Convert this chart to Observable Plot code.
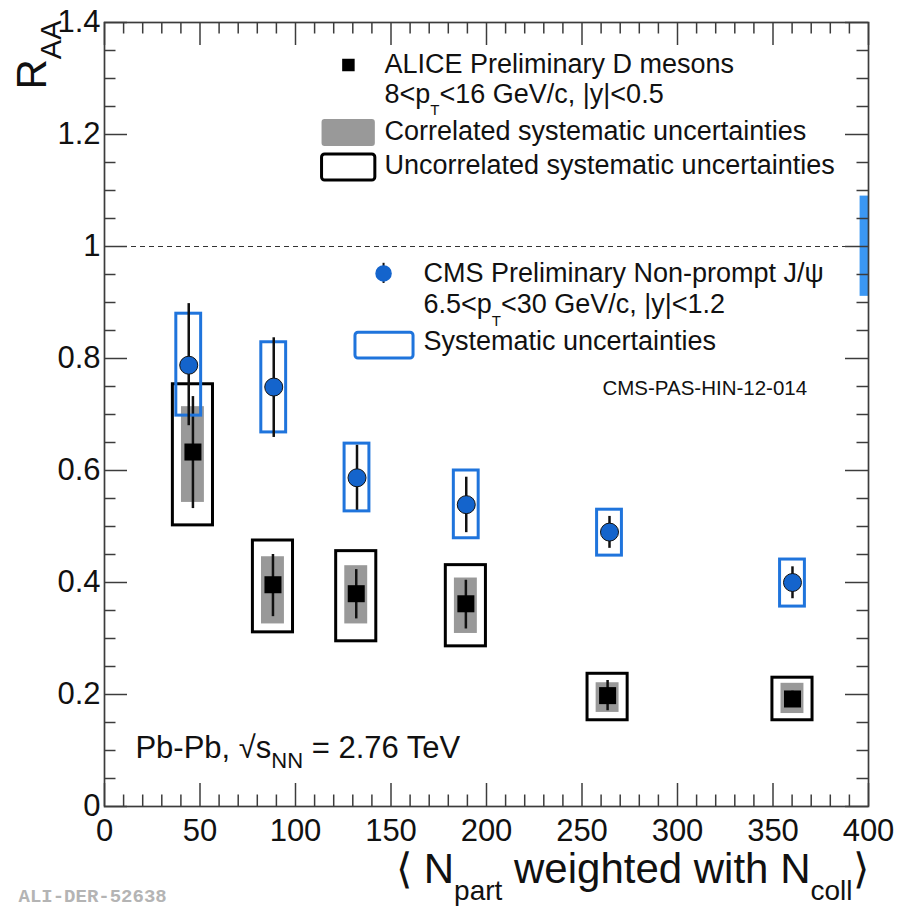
<!DOCTYPE html>
<html>
<head>
<meta charset="utf-8">
<script src="https://cdn.jsdelivr.net/npm/d3@7"></script>
<script src="https://cdn.jsdelivr.net/npm/@observablehq/plot@0.6"></script>
<style>
  html, body { margin: 0; padding: 0; background: #fff; }
  #chart svg { display: block; }
</style>
</head>
<body>
<div id="chart"></div>
<script>
// ---------------- data ----------------
// ALICE preliminary D mesons, 8<pT<16 GeV/c
const aliceNpart      = [46.3, 88.2, 131.8, 189.2, 263.4, 360.2];
const aliceRaa        = [0.633, 0.396, 0.380, 0.362, 0.198, 0.192];
const aliceStatLow    = [0.532, 0.339, 0.335, 0.317, 0.171, 0.178];
const aliceStatHigh   = [0.732, 0.450, 0.423, 0.404, 0.225, 0.206];
const aliceCorrLow    = [0.543, 0.326, 0.326, 0.309, 0.168, 0.166];
const aliceCorrHigh   = [0.714, 0.446, 0.430, 0.408, 0.221, 0.220];
const aliceUncorrLow  = [0.502, 0.311, 0.295, 0.286, 0.154, 0.154];
const aliceUncorrHigh = [0.754, 0.475, 0.456, 0.431, 0.237, 0.230];

// CMS preliminary non-prompt J/psi, 6.5<pT<30 GeV/c
const cmsNpart    = [44.1, 88.6, 132.2, 189.4, 264.4, 360.2];
const cmsRaa      = [0.788, 0.749, 0.587, 0.539, 0.490, 0.400];
const cmsStatLow  = [0.680, 0.659, 0.529, 0.489, 0.461, 0.371];
const cmsStatHigh = [0.898, 0.837, 0.645, 0.588, 0.518, 0.428];
const cmsSystLow  = [0.698, 0.668, 0.527, 0.479, 0.448, 0.357];
const cmsSystHigh = [0.880, 0.829, 0.648, 0.600, 0.530, 0.441];
const cmsGlobalSyst = [0.911, 1.090];

// axes
const xTickLabels = [0, 50, 100, 150, 200, 250, 300, 350, 400];
const yTickLabels = [0, 0.2, 0.4, 0.6, 0.8, 1, 1.2, 1.4];
const xMinorTicks = [10,20,30,40,60,70,80,90,110,120,130,140,160,170,180,190,210,220,230,240,260,270,280,290,310,320,330,340,360,370,380,390];
const yMinorTicks = [0.05,0.1,0.15,0.25,0.3,0.35,0.45,0.5,0.55,0.65,0.7,0.75,0.85,0.9,0.95,1.05,1.1,1.15,1.25,1.3,1.35];

// texts
const xTitle = "⟨ N_{part} weighted with N_{coll}⟩";
const yTitle = "R_{AA}";
const aliceLabel1 = "ALICE Preliminary D mesons";
const aliceLabel2 = "8<p_{T}<16 GeV/c, |y|<0.5";
const aliceLabel3 = "Correlated systematic uncertainties";
const aliceLabel4 = "Uncorrelated systematic uncertainties";
const cmsLabel1 = "CMS Preliminary Non-prompt J/ψ";
const cmsLabel2 = "6.5<p_{T}<30 GeV/c, |y|<1.2";
const cmsLabel3 = "Systematic uncertainties";
const cmsRef = "CMS-PAS-HIN-12-014";
const systemLabel = "Pb-Pb, √s_{NN} = 2.76 TeV";
const aliceRef = "ALI-DER-52638";

// ---------------- tables ----------------
const alice = aliceNpart.map((x, i) => ({
  x, raa: aliceRaa[i], sLo: aliceStatLow[i], sHi: aliceStatHigh[i],
  cLo: aliceCorrLow[i], cHi: aliceCorrHigh[i], uLo: aliceUncorrLow[i], uHi: aliceUncorrHigh[i]
}));
const cms = cmsNpart.map((x, i) => ({
  x, raa: cmsRaa[i], sLo: cmsStatLow[i], sHi: cmsStatHigh[i], yLo: cmsSystLow[i], yHi: cmsSystHigh[i]
}));

// ---------------- layout / style ----------------
const W = 897, H = 906;
const mL = 104, mR = 29, mT = 22, mB = 100;
const plotW = W - mL - mR, plotH = H - mT - mB;
const axisColor = "#3c3c3c";
const majorLen = 23, minorLen = 11.5;
const uncorrHalf = 10.5, corrHalf = 6, cmsBoxHalf = 6.5;
const cmsFill = "#1464cc", cmsStroke = "#1f74dc", cmsGlobalFill = "#3b97f3";
const legendFont = 27;

// subscript configuration per rich string
const richConfig = new Map([
  [xTitle, {shift: 17, size: 28}],
  [yTitle, {shift: 15, size: 29}],
  [aliceLabel2, {shift: 12.5, size: 15}],
  [cmsLabel2, {shift: 12.5, size: 15}],
  [systemLabel, {shift: 10, size: 22}]
]);

const c = v => () => v;
const txt = (s, opts) => Plot.text([s], {text: d => d, ...opts});
const leg = (s, x, y, size) => txt(s, {x: c(x), y: c(y), textAnchor: "start", lineAnchor: "bottom", fontSize: size});

const chart = Plot.plot({
  width: W, height: H,
  marginLeft: mL, marginRight: mR, marginTop: mT, marginBottom: mB,
  x: {domain: [0, 400], axis: null},
  y: {domain: [0, 1.4], axis: null},
  style: {fontFamily: "'Liberation Sans', Arial, Helvetica, sans-serif", fontSize: "23px", color: "#111", background: "#fff", overflow: "visible"},
  marks: [
    // reference line at 1
    Plot.ruleY([1], {stroke: "#333", strokeWidth: 1.2, strokeDasharray: "5,4"}),

    // ALICE
    Plot.rect(alice, {x1: d => d.x - corrHalf, x2: d => d.x + corrHalf, y1: "cLo", y2: "cHi", fill: "#999"}),
    Plot.rect(alice, {x1: d => d.x - uncorrHalf, x2: d => d.x + uncorrHalf, y1: "uLo", y2: "uHi", fill: "none", stroke: "#000", strokeWidth: 3}),
    Plot.ruleX(alice, {x: "x", y1: "sLo", y2: "sHi", stroke: "#111", strokeWidth: 2.5}),
    Plot.dot(alice, {x: "x", y: "raa", symbol: "square", r: 9.6, fill: "#000"}),

    // CMS
    Plot.rect(cms, {x1: d => d.x - cmsBoxHalf, x2: d => d.x + cmsBoxHalf, y1: "yLo", y2: "yHi", fill: "none", stroke: cmsStroke, strokeWidth: 3}),
    Plot.ruleX(cms, {x: "x", y1: "sLo", y2: "sHi", stroke: "#111", strokeWidth: 2.5}),
    Plot.dot(cms, {x: "x", y: "raa", r: 9, fill: cmsFill, stroke: "#111", strokeWidth: 1}),
    Plot.rect([cmsGlobalSyst], {x1: c(395.6), x2: c(400), y1: d => d[0], y2: d => d[1], fill: cmsGlobalFill}),

    // legend ALICE
    Plot.dot([0], {x: c(127.7), y: c(1.3241), symbol: "square", r: 7.05, fill: "#000"}),
    leg(aliceLabel1, 146.6, 1.3107, legendFont),
    leg(aliceLabel2, 146.6, 1.2571, legendFont),
    Plot.rect([0], {x1: c(113.9), x2: c(141.8), y1: c(1.1786), y2: c(1.2268), fill: "#999", rx: 3}),
    leg(aliceLabel3, 146.6, 1.1893, legendFont),
    Plot.rect([0], {x1: c(113.9), x2: c(141.8), y1: c(1.1179), y2: c(1.1643), fill: "none", stroke: "#000", strokeWidth: 3, rx: 3}),
    leg(aliceLabel4, 146.6, 1.1295, legendFont),

    // legend CMS
    Plot.ruleX([0], {x: c(146.1), y1: c(0.934), y2: c(0.970), stroke: "#111", strokeWidth: 2}),
    Plot.dot([0], {x: c(146.1), y: c(0.952), r: 7.5, fill: cmsFill, stroke: cmsFill}),
    leg(cmsLabel1, 167, 0.9375, legendFont),
    leg(cmsLabel2, 167, 0.8804, legendFont),
    Plot.rect([0], {x1: c(131.4), x2: c(161.8), y1: c(0.800), y2: c(0.846), fill: "none", stroke: cmsStroke, strokeWidth: 3, rx: 3}),
    leg(cmsLabel3, 167, 0.8143, legendFont),
    leg(cmsRef, 260.7, 0.7357, 20.5),

    // system label
    leg(systemLabel, 16.2, 0.0875, 31),

    // frame
    Plot.frame({stroke: axisColor, strokeWidth: 1.7}),

    // ticks (ROOT style, inside, on all four sides)
    Plot.tickX(xTickLabels, {x: d => d, insetTop: plotH - majorLen, stroke: axisColor, strokeWidth: 1.5}),
    Plot.tickX(xMinorTicks, {x: d => d, insetTop: plotH - minorLen, stroke: axisColor, strokeWidth: 1.5}),
    Plot.tickX(xTickLabels, {x: d => d, insetBottom: plotH - majorLen, stroke: axisColor, strokeWidth: 1.5}),
    Plot.tickX(xMinorTicks, {x: d => d, insetBottom: plotH - minorLen, stroke: axisColor, strokeWidth: 1.5}),
    Plot.tickY(yTickLabels, {y: d => d, insetRight: plotW - majorLen, stroke: axisColor, strokeWidth: 1.5}),
    Plot.tickY(yMinorTicks, {y: d => d, insetRight: plotW - minorLen, stroke: axisColor, strokeWidth: 1.5}),
    Plot.tickY(yTickLabels, {y: d => d, insetLeft: plotW - majorLen, stroke: axisColor, strokeWidth: 1.5}),
    Plot.tickY(yMinorTicks, {y: d => d, insetLeft: plotW - minorLen, stroke: axisColor, strokeWidth: 1.5}),

    // tick labels
    Plot.text(xTickLabels, {x: d => d, frameAnchor: "bottom", lineAnchor: "top", dy: 12, text: d => String(d), fontSize: 31}),
    Plot.text(yTickLabels, {y: d => d, frameAnchor: "left", textAnchor: "end", dx: -4, text: d => String(d), fontSize: 31}),

    // axis titles
    txt(xTitle, {frameAnchor: "bottom-right", textAnchor: "end", lineAnchor: "bottom", dy: 76, fontSize: 42}),
    txt(yTitle, {frameAnchor: "top-left", rotate: -90, textAnchor: "end", lineAnchor: "bottom", dx: -59, dy: -2, fontSize: 42}),

    // figure id
    txt(aliceRef, {frameAnchor: "bottom-left", textAnchor: "start", lineAnchor: "bottom", dx: -86, dy: 95, fontSize: 19,
      fontFamily: "'Liberation Mono', 'DejaVu Sans Mono', monospace", fontWeight: "bold", fill: "#b4b4b4"})
  ]
});

// convert "_{...}" markup into subscript tspans
d3.select(chart).selectAll("text").each(function () {
  const raw = this.textContent;
  const cfg = richConfig.get(raw);
  if (!cfg) return;
  const parts = raw.split(/_\{([^}]*)\}/);
  this.textContent = "";
  let lowered = false;
  parts.forEach((p, i) => {
    if (!p) return;
    const isSub = i % 2 === 1;
    const t = document.createElementNS("http://www.w3.org/2000/svg", "tspan");
    t.textContent = p;
    if (isSub && !lowered) { t.setAttribute("dy", cfg.shift); lowered = true; }
    else if (!isSub && lowered) { t.setAttribute("dy", -cfg.shift); lowered = false; }
    if (isSub) t.setAttribute("font-size", cfg.size);
    this.appendChild(t);
  });
});

document.getElementById("chart").appendChild(chart);
</script>
</body>
</html>
